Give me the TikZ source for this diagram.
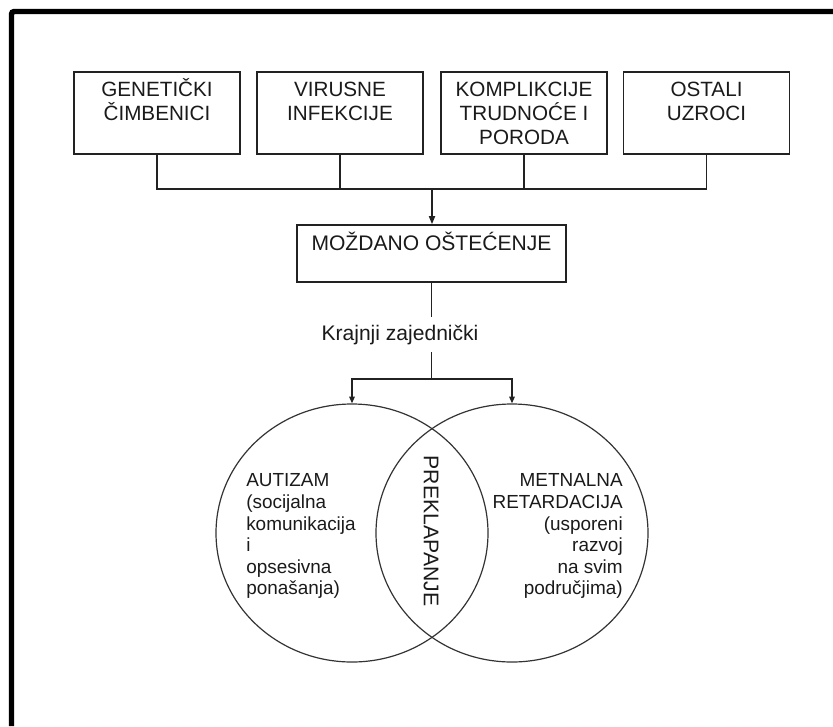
\documentclass[tikz,border=0pt]{standalone}
\usepackage{fontspec}
\setmainfont{Liberation Sans}
\usetikzlibrary{arrows.meta,shapes.geometric}
\definecolor{ink}{HTML}{1A1A1A}
\definecolor{lineink}{HTML}{222222}
\definecolor{circink}{HTML}{333333}
\newcommand{\boxstrut}{\rule{0pt}{15pt}}
\newcommand{\vennstrut}{\rule{0pt}{14pt}}
\begin{document}
\begin{tikzpicture}[x=0.75pt,y=-0.75pt,
  causebox/.style={draw=lineink, line width=1.2pt, minimum width=124.5pt, minimum height=61.5pt, inner sep=0pt},
  boxtext/.style={anchor=north, inner sep=0pt, align=center, text=ink, font=\fontsize{15.5}{18}\selectfont},
  vennset/.style={ellipse, draw=circink, line width=0.9pt, minimum width=204pt, minimum height=193.5pt, inner sep=0pt},
  venntext/.style={inner sep=0pt, text=ink, font=\fontsize{14.2}{16.2}\selectfont},
  conn/.style={draw=lineink, line width=1.2pt},
  tipA/.style={-{Triangle[length=6pt,width=4.5pt]}},
  tipB/.style={-{Triangle[length=5pt,width=4pt]}}
]
\useasboundingbox (0,0) rectangle (833,726);
% frame
\draw[line width=4.1pt, rounded corners=2pt, black] (11.5,726) -- (11.5,11.5) -- (833,11.5);

% cause boxes
\node[causebox] (b1) at (157,113) {};
\node[causebox] (b2) at (340,113) {};
\node[causebox] (b3) at (524,113) {};
\node[causebox] (b4) at (706.5,113) {};
\node[boxtext] (t1) at (157,76.5) {\boxstrut GENETIČKI\\ČIMBENICI};
\node[boxtext] (t2) at (340,76.5) {\boxstrut VIRUSNE\\INFEKCIJE};
\node[boxtext] (t3) at (524,76.5) {\boxstrut KOMPLIKCIJE\\TRUDNOĆE I\\PORODA};
\node[boxtext] (t4) at (706.5,76.5) {\boxstrut OSTALI\\UZROCI};

% brain damage box
\node[draw=lineink, line width=1.2pt, minimum width=201.75pt, minimum height=42.75pt, inner sep=0pt] (md) at (431.5,253.5) {};
\node[anchor=base, inner sep=0pt, text=ink, font=\fontsize{15.8}{18}\selectfont] (mdt) at (431.5,250) {MOŽDANO OŠTEĆENJE};

\coordinate (jn) at (432,189);
\draw[conn] (b1.south) -- (b1.south |- jn) -- (b4.south |- jn) -- (b4.south);
\draw[conn] (b2.south) -- (b2.south |- jn);
\draw[conn] (b3.south) -- (b3.south |- jn);
\draw[conn, tipA] (jn) -- (jn |- md.north);

% final common path
\node[text=ink, font=\fontsize{15.8}{18}\selectfont, text height=12pt, text depth=3.5pt, inner xsep=2pt, inner ysep=5.3pt] (kz) at (400,334.5) {Krajnji zajednički};
\coordinate (jn2) at (431.5,379);
\draw[conn] (md.south) -- (md.south |- kz.north);
\draw[conn] (md.south |- kz.south) -- (jn2);

% Venn
\node[vennset] (aut) at (352,533) {};
\node[vennset] (mr) at (512,533) {};
\draw[conn, tipB] (jn2) -| (aut.north);
\draw[conn, tipB] (jn2) -| (mr.north);

\node[venntext, anchor=north west, align=left] (autt) at (246,468) {\vennstrut AUTIZAM\\(socijalna\\komunikacija\\i\\opsesivna\\ponašanja)};
\node[venntext, anchor=north east, align=right] (mrt) at (623,468) {\vennstrut METNALNA\\RETARDACIJA\\(usporeni\\razvoj\\na svim\\područjima)};
\node[inner sep=0pt, text=ink, font=\fontsize{15.9}{18}\selectfont, rotate=-90] (prek) at (431,531) {PREKLAPANJE};
\end{tikzpicture}
\end{document}
